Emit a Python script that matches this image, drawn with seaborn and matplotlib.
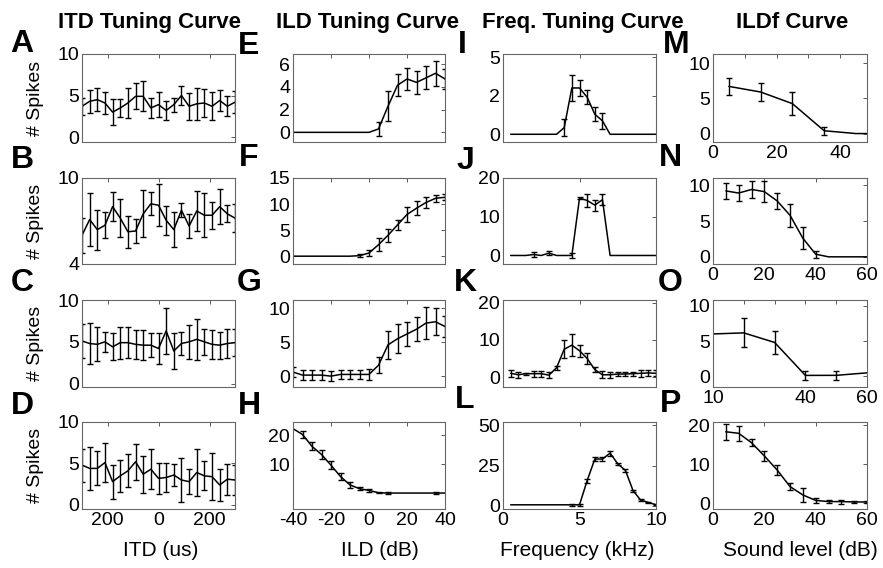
import numpy as np
import pandas as pd
import matplotlib
matplotlib.use("Agg")
import matplotlib.pyplot as plt
import seaborn as sns

# ---- data (mean spikes and error) ----
itd = np.arange(-300, 301, 30)
itd_a = [3.7, 4.3, 4.5, 4.1, 3.0, 3.5, 4.1, 4.9, 4.9, 3.5, 3.9, 3.2, 3.9, 5.0, 3.7, 4.0, 4.1, 3.7, 4.4, 3.7, 4.2]
itd_a_err = [1.0, 1.4, 1.4, 1.3, 1.6, 1.05, 1.8, 1.55, 1.8, 1.15, 1.5, 1.15, 0.85, 1.2, 1.6, 1.9, 1.7, 1.7, 1.25, 1.2, 1.3]
itd_b = [6.0, 7.1, 6.4, 6.7, 8.0, 7.2, 6.25, 6.3, 7.5, 8.2, 8.1, 7.05, 6.4, 7.75, 6.65, 7.7, 7.4, 7.4, 8.0, 7.5, 7.2]
itd_b_err = [1.2, 1.85, 1.4, 0.9, 1.0, 1.35, 1.1, 0.85, 1.65, 0.8, 1.45, 1.0, 1.2, 0.5, 0.85, 1.4, 1.55, 0.95, 1.2, 0.6, 1.0]
itd_c = [5.1, 4.8, 4.7, 5.0, 4.4, 4.9, 4.9, 4.7, 4.6, 4.6, 4.2, 6.3, 3.9, 4.8, 5.0, 5.3, 5.0, 4.7, 4.6, 4.8, 4.9]
itd_c_err = [2.0, 2.5, 2.05, 1.2, 1.6, 1.9, 1.85, 1.7, 1.8, 1.45, 1.8, 2.75, 2.2, 1.35, 2.05, 2.45, 1.55, 1.7, 1.6, 1.7, 1.6]
itd_d = [4.8, 4.4, 4.4, 5.1, 2.8, 3.5, 4.1, 5.2, 3.7, 4.3, 3.2, 3.3, 3.6, 3.0, 2.8, 3.9, 3.5, 3.4, 2.4, 3.1, 3.0]
itd_d_err = [2.0, 2.6, 2.05, 2.35, 2.05, 1.95, 2.0, 2.2, 2.25, 2.4, 1.85, 1.8, 1.3, 2.7, 1.5, 2.8, 1.75, 2.8, 1.9, 1.85, 1.8]

ild = np.arange(-40, 41, 5)
ild_e = [0, 0, 0, 0, 0, 0, 0, 0, 0, 0.3, 2.3, 4.15, 4.7, 4.4, 4.8, 5.2, 4.7]
ild_e_err = [0, 0, 0, 0, 0, 0, 0, 0, 0, 0.6, 1.3, 0.95, 1.0, 1.0, 1.0, 1.1, 0.9]
ild_f = [0, 0, 0, 0, 0, 0, 0, 0.1, 0.6, 2.2, 4.0, 6.0, 8.0, 9.2, 10.3, 11.1, 11.3]
ild_f_err = [0, 0, 0, 0, 0, 0, 0, 0.3, 0.6, 1.3, 1.2, 1.0, 1.5, 1.3, 1.0, 0.7, 0.6]
ild_g = [0.6, 0.15, 0.15, 0.15, 0.0, 0.25, 0.25, 0.25, 0.25, 1.6, 4.6, 5.5, 6.2, 6.9, 7.8, 8.0, 7.3]
ild_g_err = [0.7, 0.7, 0.7, 0.7, 0.7, 0.7, 0.7, 0.7, 0.8, 1.15, 2.1, 2.1, 1.75, 1.8, 2.3, 2.0, 1.5]
ild_h = [22.2, 20.2, 16.1, 13.3, 9.6, 5.7, 2.8, 1.5, 0.9, 0.1, 0.0, 0, 0, 0, 0, 0.0, 0]
ild_h_err = [0, 1.2, 1.4, 1.5, 1.4, 1.2, 1.0, 0.6, 0.6, 0.2, 0.2, 0, 0, 0, 0, 0.2, 0]

freq = np.arange(0.5, 10.01, 0.5)
freq_i = [0, 0, 0, 0, 0, 0, 0, 0.43, 3.0, 3.0, 2.4, 1.3, 0.87, 0, 0, 0, 0, 0, 0, 0]
freq_i_err = [0, 0, 0, 0, 0, 0, 0, 0.55, 0.85, 0.5, 0.45, 0.45, 0.5, 0, 0, 0, 0, 0, 0, 0]
freq_j = [0, 0, 0, 0.25, 0, 0.6, 0, 0, 0.0, 14.8, 14.2, 13.0, 14.4, 0, 0, 0, 0, 0, 0, 0]
freq_j_err = [0, 0, 0, 0.6, 0, 0.6, 0, 0, 0.6, 0.3, 1.6, 1.4, 1.4, 0, 0, 0, 0, 0, 0, 0]
freq_k = [1.0, 0.6, 0.9, 0.9, 0.9, 0.5, 2.5, 7.5, 8.6, 7.1, 5.0, 2.0, 0.6, 0.6, 0.8, 0.8, 0.9, 1.0, 1.1, 1.0]
freq_k_err = [0.9, 0.8, 0.3, 0.8, 0.8, 0.8, 0.6, 2.5, 2.9, 1.6, 1.5, 0.6, 0.9, 0.8, 0.6, 0.6, 0.5, 0.9, 0.9, 0.8]
freq_l = [0.6, 0.6, 0.6, 0.6, 0.6, 0.6, 0.6, 0.6, 0.6, 0.6, 15.6, 29.0, 29.0, 32.7, 26.0, 22.0, 9.4, 3.5, 2.1, 0.6]
freq_l_err = [0, 0, 0, 0, 0, 0, 0, 0, 0.5, 0.6, 1.2, 1.5, 1.2, 1.5, 0.8, 1.0, 0.7, 0.4, 0.4, 0.3]

lvl_m = [5, 15, 25, 35, 45, 55]
spk_m = [6.7, 5.9, 4.25, 0.4, 0, 0]
spk_m_err = [1.25, 1.3, 1.6, 0.6, 0, 0]
lvl_n = np.arange(5, 61, 5)
spk_n = [9.2, 8.9, 9.4, 9.1, 7.8, 5.8, 2.6, 0.37, 0, 0, 0, 0]
spk_n_err = [1.15, 1.1, 1.15, 1.45, 1.15, 1.6, 1.5, 0.5, 0, 0, 0, 0]
lvl_o = [10, 20, 30, 40, 50, 60]
spk_o = [6.0, 6.15, 4.8, 0.14, 0.15, 0.5]
spk_o_err = [0, 2.05, 1.6, 0.6, 0.6, 0]
lvl_p = np.arange(5, 61, 5)
spk_p = [18.3, 17.9, 15.5, 12.1, 8.5, 4.25, 2.1, 0.7, 0.4, 0.4, 0.3, 0.3]
spk_p_err = [2.1, 2.0, 0.9, 1.35, 1.3, 0.9, 1.7, 0.6, 0.4, 0.5, 0.3, 0.3]

titles = ["ITD Tuning Curve", "ILD Tuning Curve", "Freq. Tuning Curve", "ILDf Curve"]
xlabels = ["ITD (us)", "ILD (dB)", "Frequency (kHz)", "Sound level (dB)"]
letters = ["A", "B", "C", "D", "E", "F", "G", "H", "I", "J", "K", "L", "M", "N", "O", "P"]

sns.set_style("white")
plt.rcParams["font.family"] = ["Liberation Sans", "DejaVu Sans"]
plt.rcParams["text.color"] = "black"

W, H = 883, 568
fig = plt.figure(figsize=(W / 100, H / 100), dpi=100)

col_left = [82, 293, 503, 713]
col_w = [153, 152, 153, 154]
row_top = [54, 178, 300, 422]
row_bot = [142, 264, 387, 509]

itd_ticks = dict(xlim=(-300, 300), xticks=[-200, 0, 200])
ild_ticks = dict(xlim=(-40, 40), xticks=[-40, -20, 0, 20, 40])
frq_ticks = dict(xlim=(0, 10), xticks=[0, 5, 10])

panels = [
    # column 1
    dict(x=itd, y=itd_a, e=itd_a_err, ylim=(-0.6, 10), yticks=[0, 5, 10], **itd_ticks),
    dict(x=itd, y=itd_b, e=itd_b_err, ylim=(4, 10), yticks=[4, 10], **itd_ticks),
    dict(x=itd, y=itd_c, e=itd_c_err, ylim=(-0.4, 10), yticks=[0, 5, 10], **itd_ticks),
    dict(x=itd, y=itd_d, e=itd_d_err, ylim=(-0.5, 10), yticks=[0, 5, 10], **itd_ticks,
         xtl=["200", "0", "200"]),
    # column 2
    dict(x=ild, y=ild_e, e=ild_e_err, ylim=(-0.85, 6.9), yticks=[0, 2, 4, 6], **ild_ticks),
    dict(x=ild, y=ild_f, e=ild_f_err, ylim=(-1.5, 15), yticks=[0, 5, 10, 15], **ild_ticks),
    dict(x=ild, y=ild_g, e=ild_g_err, ylim=(-1.6, 11.2), yticks=[0, 5, 10], **ild_ticks),
    dict(x=ild, y=ild_h, e=ild_h_err, ylim=(-5.5, 24.5), yticks=[10, 20], **ild_ticks,
         xtl=["-40", "-20", "0", "20", "40"]),
    # column 3
    dict(x=freq, y=freq_i, e=freq_i_err, ylim=(-0.5, 5.2), yticks=[0, 2.5, 5],
         ytl=["0", "2", "5"], **frq_ticks),
    dict(x=freq, y=freq_j, e=freq_j_err, ylim=(-2.2, 20), yticks=[0, 10, 20], **frq_ticks),
    dict(x=freq, y=freq_k, e=freq_k_err, ylim=(-2.7, 20.8), yticks=[0, 10, 20], **frq_ticks),
    dict(x=freq, y=freq_l, e=freq_l_err, ylim=(-2, 52), yticks=[0, 25, 50], **frq_ticks,
         xtl=["0", "5", "10"]),
    # column 4
    dict(x=lvl_m, y=spk_m, e=spk_m_err, xlim=(0, 48.5), ylim=(-1.2, 11.3), yticks=[0, 5, 10],
         xticks=[0, 10, 20, 30, 40], xtl=["0", "", "20", "", "40"]),
    dict(x=lvl_n, y=spk_n, e=spk_n_err, xlim=(0, 60), ylim=(-1, 11), yticks=[0, 5, 10],
         xticks=[0, 20, 40, 60], xtl=["0", "20", "40", "60"]),
    dict(x=lvl_o, y=spk_o, e=spk_o_err, xlim=(10, 60), ylim=(-1.5, 10.8), yticks=[0, 5, 10],
         xticks=[10, 20, 30, 40, 50, 60], xtl=["10", "", "", "40", "", "60"]),
    dict(x=lvl_p, y=spk_p, e=spk_p_err, xlim=(0, 60), ylim=(-1.5, 20.8), yticks=[0, 10, 20],
         xticks=[0, 20, 40, 60], xtl=["0", "20", "40", "60"]),
]

letter_pos = [
    (22, 44), (22, 160), (22, 283), (22, 406),
    (249, 46), (249, 158), (249, 283), (249, 406),
    (462, 45), (465, 161), (465, 283), (465, 400),
    (676, 45), (670, 158), (670, 283), (671, 404),
]

for k, p in enumerate(panels):
    c, r = divmod(k, 4)
    ax = fig.add_axes([col_left[c] / W, 1 - row_bot[r] / H, col_w[c] / W,
                       (row_bot[r] - row_top[r]) / H])
    df = pd.DataFrame({"x": p["x"], "y": p["y"]})
    sns.lineplot(data=df, x="x", y="y", ax=ax, color="black", lw=1.1, errorbar=None)
    err = np.array(p["e"], dtype=float)
    show = err > 0
    ax.errorbar(np.asarray(p["x"])[show], np.asarray(p["y"])[show], yerr=err[show],
                fmt="none", ecolor="black", elinewidth=1.0, capsize=2.5, capthick=1.0)
    ax.set_xlim(*p["xlim"])
    ax.set_ylim(*p["ylim"])
    ax.set_xticks(p["xticks"])
    ax.set_xticklabels(p.get("xtl", [""] * len(p["xticks"])))
    ax.set_yticks(p["yticks"])
    ax.set_yticklabels(p.get("ytl", [f"{v:g}" for v in p["yticks"]]))
    ax.set_xlabel("")
    ax.set_ylabel("")
    ax.tick_params(direction="in", length=3, width=0.7, color="0.35",
                   top=True, right=True, labelsize=14, pad=2, labelcolor="black")
    for s in ax.spines.values():
        s.set_color("0.4")
        s.set_linewidth(0.8)
    lx, ly = letter_pos[k]
    fig.text(lx / W, 1 - ly / H, letters[k], fontsize=23, fontweight="bold",
             ha="center", va="center", color="black")

title_x = [150, 367, 583, 792]
for c in range(4):
    fig.text(title_x[c] / W, 1 - 28 / H, titles[c], fontsize=16, fontweight="bold",
             ha="center", va="baseline", color="black")

xlabel_x = [161, 380, 577, 800]
for c in range(4):
    fig.text(xlabel_x[c] / W, 1 - 550 / H, xlabels[c], fontsize=15, ha="center",
             va="center", color="black")

for r in range(4):
    fig.text(36 / W, 1 - (row_top[r] + row_bot[r]) / 2 / H, "# Spikes", fontsize=14,
             rotation=90, ha="center", va="center", color="black")

fig.savefig("out.png", dpi=100)
